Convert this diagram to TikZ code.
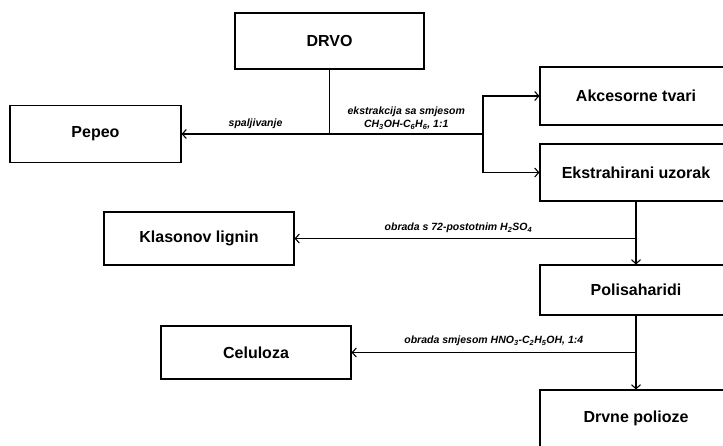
\documentclass[tikz,border=0pt]{standalone}
\usepackage{fontspec}
\setmainfont{Liberation Sans}
\usetikzlibrary{arrows.meta}

\begin{document}
\begin{tikzpicture}[x=1pt,y=-1pt,line width=1.1pt,
  box/.style={draw,inner sep=0pt,font=\bfseries\fontsize{16}{19}\selectfont},
  lbl/.style={inner sep=2pt,align=center,font=\bfseries\itshape\fontsize{10.5}{13}\selectfont},
  arr/.style={-{Straight Barb[length=4pt,width=9pt]}}]
  \useasboundingbox (0,0) rectangle (723,445);

  % boxes
  \node[box,minimum width=189,minimum height=56] (drvo) at (329.5,41) {DRVO};
  \node[box,minimum width=171,minimum height=57] (pepeo) at (95.5,134) {Pepeo};
  \node[box,minimum width=192,minimum height=58] (akc) at (636,96) {Akcesorne tvari};
  \node[box,minimum width=192,minimum height=57] (eks) at (636,172.5) {Ekstrahirani uzorak};
  \node[box,minimum width=190,minimum height=53] (klas) at (199,238.5) {Klasonov lignin};
  \node[box,minimum width=192,minimum height=50] (pol) at (636,290) {Polisaharidi};
  \node[box,minimum width=190,minimum height=53] (cel) at (256,352.5) {Celuloza};
  \node[box,minimum width=192,minimum height=57] (drv) at (636,418.5) {Drvne polioze};

  % extraction and burning
  \coordinate (br) at (483,134);
  \draw (drvo.south) -- (drvo.south |- br);
  \draw[arr] (br) -- node[lbl,above=2pt] {ekstrakcija sa smjesom\\CH\textsubscript{3}OH-C\textsubscript{6}H\textsubscript{6}, 1:1}
    (drvo.south |- br) -- (pepeo.east) node[lbl,midway,above=3pt] {spaljivanje};
  \draw[arr] (br) |- (akc.west);
  \draw[arr] (br) |- (eks.west);

  % lignin
  \draw[arr] (eks.south) -- (pol.north);
  \draw[arr] (eks.south |- klas.east) -- node[lbl,pos=0.52,above=3pt] {obrada s 72-postotnim H\textsubscript{2}SO\textsubscript{4}} (klas.east);

  % cellulose
  \draw[arr] (pol.south) -- (drv.north);
  \draw[arr] (pol.south |- cel.east) -- node[lbl,above=4pt] {obrada smjesom HNO\textsubscript{3}-C\textsubscript{2}H\textsubscript{5}OH, 1:4} (cel.east);
\end{tikzpicture}
\end{document}
